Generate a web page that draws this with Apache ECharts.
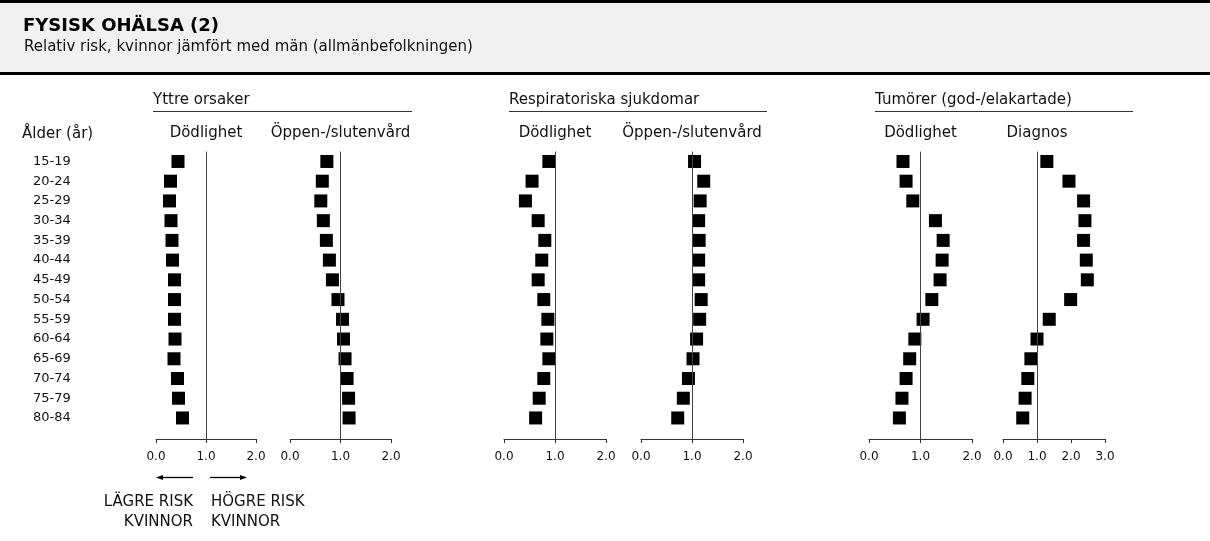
<!DOCTYPE html>
<html>
<head>
<meta charset="utf-8">
<script src="https://cdn.jsdelivr.net/npm/echarts@6/dist/echarts.min.js"></script>
<style>
  html, body { margin: 0; padding: 0; background: #fff; }
  #chart { width: 1210px; height: 541px; }
</style>
</head>
<body>
<div id="chart"></div>
<script>
  // åldersgrupper (rader)
  var ages = ['15-19', '20-24', '25-29', '30-34', '35-39', '40-44', '45-49',
              '50-54', '55-59', '60-64', '65-69', '70-74', '75-79', '80-84'];

  // relativ risk, kvinnor jämfört med män
  var yttreDod   = [0.44, 0.29, 0.27, 0.30, 0.32, 0.33, 0.37, 0.37, 0.37, 0.38, 0.36, 0.43, 0.45, 0.53];
  var yttreVard  = [0.73, 0.64, 0.61, 0.66, 0.72, 0.78, 0.84, 0.95, 1.04, 1.06, 1.09, 1.13, 1.16, 1.17];
  var respDod    = [0.88, 0.55, 0.42, 0.67, 0.80, 0.74, 0.67, 0.78, 0.86, 0.84, 0.88, 0.78, 0.69, 0.62];
  var respVard   = [1.05, 1.23, 1.16, 1.13, 1.14, 1.13, 1.13, 1.18, 1.15, 1.09, 1.02, 0.93, 0.83, 0.72];
  var tumDod     = [0.66, 0.72, 0.85, 1.29, 1.44, 1.42, 1.38, 1.22, 1.05, 0.89, 0.79, 0.72, 0.64, 0.59];
  var tumDiag    = [1.29, 1.94, 2.37, 2.41, 2.37, 2.45, 2.48, 1.99, 1.36, 1.00, 0.82, 0.73, 0.65, 0.58];

  var panelTitles = ['Dödlighet', 'Öppen-/slutenvård', 'Dödlighet', 'Öppen-/slutenvård', 'Dödlighet', 'Diagnos'];
  var groupTitles = ['Yttre orsaker', 'Respiratoriska sjukdomar', 'Tumörer (god-/elakartade)'];
  var panelMax = [2, 2, 2, 2, 2, 3];
  var panelData = [yttreDod, yttreVard, respDod, respVard, tumDod, tumDiag];

  var FONT = '"DejaVu Sans", sans-serif';
  var TXT = '#111';

  // layout
  var panelLeft = [156, 290, 504, 641, 869, 1003];
  var panelWidth = [100, 101, 102, 102, 103, 102];
  var rowTop = 151.6, rowStep = 19.73, axisY = 439;

  var myChart = echarts.init(document.getElementById('chart'));

  var grid = [], xAxis = [], yAxis = [], series = [];

  // osynligt rutnät för radetiketterna
  grid.push({ left: 100, top: rowTop, width: 10, height: rowStep * ages.length });
  xAxis.push({ gridIndex: 0, type: 'value', show: false });
  yAxis.push({
    gridIndex: 0, type: 'category', data: ages, inverse: true,
    axisLine: { show: false }, axisTick: { show: false },
    axisLabel: { align: 'left', margin: 67, fontFamily: FONT, fontSize: 13, color: TXT }
  });

  panelData.forEach(function (vals, p) {
    var gi = p + 1;
    grid.push({ left: panelLeft[p], width: panelWidth[p], top: rowTop, height: axisY - rowTop });
    xAxis.push({
      gridIndex: gi, type: 'value', position: 'bottom', min: 0, max: panelMax[p], interval: 1,
      axisLine: { show: true, onZero: false, lineStyle: { color: '#333', width: 1 } },
      axisTick: { show: true, length: 4, lineStyle: { color: '#333' } },
      splitLine: { show: false },
      axisLabel: {
        margin: 12, fontFamily: FONT, fontSize: 12, color: TXT,
        formatter: function (v) { return v.toFixed(1); }
      }
    });
    yAxis.push({
      gridIndex: gi, type: 'value', inverse: true,
      min: -0.5, max: (axisY - rowTop) / rowStep - 0.5, show: false
    });
    // referenslinje vid 1.0 (under markeringarna)
    series.push({
      type: 'line', xAxisIndex: gi, yAxisIndex: gi, z: 1, data: [],
      markLine: {
        silent: true, symbol: 'none', animation: false,
        label: { show: false },
        lineStyle: { color: '#444', width: 1, type: 'solid' },
        data: [{ xAxis: 1 }]
      }
    });
    series.push({
      type: 'scatter', xAxisIndex: gi, yAxisIndex: gi, z: 3,
      symbol: 'rect', symbolSize: 13,
      itemStyle: { color: '#000', opacity: 1 },
      data: vals.map(function (v, i) { return [v, i]; })
    });
  });

  // texter och dekor
  var graphic = [
    { type: 'rect', shape: { x: 0, y: 0, width: 1210, height: 73 }, style: { fill: '#f1f1f1' } },
    { type: 'rect', shape: { x: 0, y: 0, width: 1210, height: 3 }, style: { fill: '#000' } },
    { type: 'rect', shape: { x: 0, y: 72, width: 1210, height: 3 }, style: { fill: '#000' } },
    { type: 'text', x: 23, y: 26, style: { text: 'FYSISK OHÄLSA (2)', font: 'bold 18px ' + FONT, fill: '#000', textVerticalAlign: 'middle' } },
    { type: 'text', x: 24, y: 47, style: { text: 'Relativ risk, kvinnor jämfört med män (allmänbefolkningen)', font: '15px ' + FONT, fill: TXT, textVerticalAlign: 'middle' } },
    { type: 'text', x: 22, y: 134, style: { text: 'Ålder (år)', font: '15px ' + FONT, fill: TXT, textVerticalAlign: 'middle' } }
  ];

  var groupX = [[153, 412], [509, 767], [875, 1133]];
  groupTitles.forEach(function (t, g) {
    graphic.push({ type: 'text', x: groupX[g][0], y: 100, style: { text: t, font: '15px ' + FONT, fill: TXT, textVerticalAlign: 'middle' } });
    graphic.push({ type: 'line', shape: { x1: groupX[g][0], y1: 111.5, x2: groupX[g][1], y2: 111.5 }, style: { stroke: '#333', lineWidth: 1 } });
  });

  panelTitles.forEach(function (t, p) {
    var cx = panelLeft[p] + panelWidth[p] / panelMax[p];
    graphic.push({ type: 'text', x: cx, y: 133, style: { text: t, font: '15px ' + FONT, fill: TXT, textAlign: 'center', textVerticalAlign: 'middle' } });
  });

  // pilar under första panelen
  graphic.push(
    { type: 'line', shape: { x1: 162, y1: 477.5, x2: 193, y2: 477.5 }, style: { stroke: '#000', lineWidth: 1.3 } },
    { type: 'polygon', shape: { points: [[156, 477.5], [163, 475], [163, 480]] }, style: { fill: '#000' } },
    { type: 'line', shape: { x1: 210, y1: 477.5, x2: 241, y2: 477.5 }, style: { stroke: '#000', lineWidth: 1.3 } },
    { type: 'polygon', shape: { points: [[247, 477.5], [240, 475], [240, 480]] }, style: { fill: '#000' } },
    { type: 'text', x: 193, y: 502, style: { text: 'LÄGRE RISK', font: '15px ' + FONT, fill: TXT, textAlign: 'right', textVerticalAlign: 'middle' } },
    { type: 'text', x: 193, y: 522, style: { text: 'KVINNOR', font: '15px ' + FONT, fill: TXT, textAlign: 'right', textVerticalAlign: 'middle' } },
    { type: 'text', x: 211, y: 502, style: { text: 'HÖGRE RISK', font: '15px ' + FONT, fill: TXT, textVerticalAlign: 'middle' } },
    { type: 'text', x: 211, y: 522, style: { text: 'KVINNOR', font: '15px ' + FONT, fill: TXT, textVerticalAlign: 'middle' } }
  );

  myChart.setOption({
    animation: false,
    backgroundColor: '#fff',
    grid: grid,
    xAxis: xAxis,
    yAxis: yAxis,
    series: series,
    graphic: graphic
  });
</script>
</body>
</html>
